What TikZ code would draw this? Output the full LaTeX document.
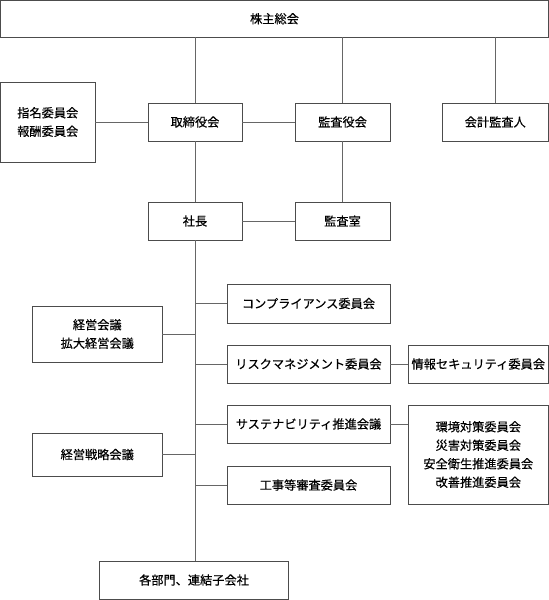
\documentclass[tikz,border=0pt]{standalone}
\usepackage{fontspec}
\setmainfont{Noto Sans CJK JP}[FakeBold=0.4]
\begin{document}
\begin{tikzpicture}[x=1pt,y=-1pt,
  bx/.style={draw=black!70,line width=0.9pt,fill=white,inner sep=0pt,align=center,
    font=\fontsize{12.2}{18.5}\selectfont},
  ln/.style={draw=black!60,line width=0.9pt}]
\useasboundingbox (0,0) rectangle (549,600);
\node[bx,minimum width=548pt,minimum height=36.5pt] (kabu) at (274.5,18.75) {株主総会};
\node[bx,minimum width=94.5pt,minimum height=80pt] (shimei) at (47.75,122) {指名委員会\\報酬委員会};
\node[bx,minimum width=94pt,minimum height=38pt] (tori) at (195,122) {取締役会};
\node[bx,minimum width=95pt,minimum height=38pt] (kansa) at (342.5,122) {監査役会};
\node[bx,minimum width=105.5pt,minimum height=38pt] (kaikei) at (495.25,122) {会計監査人};
\node[bx,minimum width=94pt,minimum height=38pt] (shacho) at (195,221) {社長};
\node[bx,minimum width=95pt,minimum height=38pt] (kshitsu) at (342.5,221) {監査室};
\node[bx,minimum width=163pt,minimum height=39pt] (comp) at (308.5,303.5) {コンプライアンス委員会};
\node[bx,minimum width=129.5pt,minimum height=56pt] (keiei) at (97.25,334) {経営会議\\拡大経営会議};
\node[bx,minimum width=163pt,minimum height=38pt] (risk) at (308.5,364) {リスクマネジメント委員会};
\node[bx,minimum width=139.4pt,minimum height=38pt] (joho) at (478.3,364) {情報セキュリティ委員会};
\node[bx,minimum width=163pt,minimum height=38pt] (sus) at (308.5,424) {サステナビリティ推進会議};
\node[bx,minimum width=139.4pt,minimum height=99pt] (kankyo) at (478.3,454.5) {環境対策委員会\\災害対策委員会\\安全衛生推進委員会\\改善推進委員会};
\node[bx,minimum width=129.5pt,minimum height=43pt] (senryaku) at (97.25,454.5) {経営戦略会議};
\node[bx,minimum width=163pt,minimum height=38pt] (koji) at (308.5,485) {工事等審査委員会};
\node[bx,minimum width=189pt,minimum height=38pt] (bumon) at (194,580) {各部門、連結子会社};
\draw[ln] (tori.north) -- (tori.north |- kabu.south);
\draw[ln] (kansa.north) -- (kansa.north |- kabu.south);
\draw[ln] (kaikei.north) -- (kaikei.north |- kabu.south);
\draw[ln] (shimei.east) -- (tori.west);
\draw[ln] (tori.east) -- (kansa.west);
\draw[ln] (tori.south) -- (shacho.north);
\draw[ln] (kansa.south) -- (kshitsu.north);
\draw[ln] (shacho.east) -- (kshitsu.west);
\draw[ln] (shacho.south) -- (shacho.south |- bumon.north);
\draw[ln] (comp.west) -- (comp.west -| shacho.south);
\draw[ln] (risk.west) -- (risk.west -| shacho.south);
\draw[ln] (sus.west) -- (sus.west -| shacho.south);
\draw[ln] (koji.west) -- (koji.west -| shacho.south);
\draw[ln] (keiei.east) -- (keiei.east -| shacho.south);
\draw[ln] (senryaku.east) -- (senryaku.east -| shacho.south);
\draw[ln] (risk.east) -- (joho.west);
\draw[ln] (sus.east) -- (sus.east -| kankyo.west);
\end{tikzpicture}
\end{document}
